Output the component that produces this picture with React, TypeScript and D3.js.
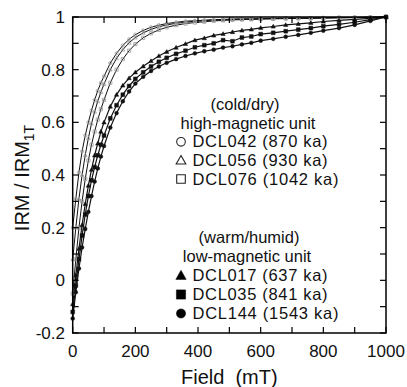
import React from "react";
import * as d3 from "d3";

const fields = [0,10,20,30,40,50,60,70,80,90,100,120,140,160,180,200,225,250,275,300,330,360,390,420,450,480,510,540,570,600,640,680,720,760,800,850,900,950,1000];

const dcl042 = [0.2,0.31,0.41,0.49,0.55,0.6,0.645,0.685,0.72,0.75,0.775,0.825,0.862,0.892,0.915,0.933,0.949,0.961,0.969,0.975,0.98,0.984,0.986,0.988,0.99,0.991,0.992,0.993,0.993,0.994,0.995,0.995,0.996,0.996,0.997,0.998,0.998,0.999,1.0];
const dcl056 = [0.08,0.2,0.31,0.4,0.475,0.54,0.595,0.64,0.68,0.715,0.745,0.8,0.843,0.876,0.902,0.922,0.94,0.953,0.963,0.97,0.976,0.98,0.984,0.986,0.988,0.989,0.991,0.992,0.992,0.993,0.994,0.995,0.995,0.996,0.997,0.997,0.998,0.999,1.0];
const dcl076 = [-0.05,0.08,0.2,0.3,0.385,0.455,0.515,0.565,0.61,0.65,0.685,0.75,0.8,0.84,0.872,0.897,0.921,0.938,0.951,0.961,0.969,0.975,0.979,0.982,0.985,0.987,0.989,0.99,0.991,0.992,0.993,0.994,0.995,0.995,0.996,0.997,0.998,0.999,1.0];
const dcl017 = [-0.09,0.02,0.12,0.21,0.29,0.36,0.42,0.475,0.52,0.565,0.6,0.66,0.705,0.74,0.768,0.79,0.813,0.833,0.852,0.868,0.884,0.898,0.912,0.92,0.93,0.936,0.943,0.949,0.953,0.959,0.964,0.97,0.974,0.978,0.983,0.987,0.991,0.995,1.0];
const dcl035 = [-0.12,-0.02,0.08,0.17,0.25,0.32,0.38,0.43,0.475,0.515,0.55,0.615,0.665,0.705,0.738,0.765,0.79,0.812,0.83,0.845,0.86,0.872,0.885,0.893,0.9,0.912,0.908,0.922,0.926,0.935,0.94,0.946,0.952,0.958,0.965,0.972,0.98,0.99,1.0];
const dcl144 = [-0.145,-0.045,0.045,0.125,0.195,0.26,0.32,0.375,0.425,0.47,0.51,0.58,0.635,0.68,0.717,0.747,0.773,0.795,0.812,0.826,0.84,0.852,0.862,0.87,0.876,0.884,0.889,0.896,0.902,0.91,0.917,0.925,0.932,0.94,0.948,0.958,0.97,0.985,1.0];

const xMajor = [0, 200, 400, 600, 800, 1000];
const xMinor = [0, 100, 200, 300, 400, 500, 600, 700, 800, 900, 1000];
const yMajor = [-0.2, 0, 0.2, 0.4, 0.6, 0.8, 1];
const yMinor = [-0.2, -0.1, 0, 0.1, 0.2, 0.3, 0.4, 0.5, 0.6, 0.7, 0.8, 0.9, 1];
const yLabels = ["-0.2", "0", "0.2", "0.4", "0.6", "0.8", "1"];

type Sym = "circle" | "triangle" | "square";
const series: { name: string; values: number[]; sym: Sym; filled: boolean }[] = [
  { name: "DCL042 (870 ka)", values: dcl042, sym: "circle", filled: false },
  { name: "DCL056 (930 ka)", values: dcl056, sym: "triangle", filled: false },
  { name: "DCL076 (1042 ka)", values: dcl076, sym: "square", filled: false },
  { name: "DCL017 (637 ka)", values: dcl017, sym: "triangle", filled: true },
  { name: "DCL035 (841 ka)", values: dcl035, sym: "square", filled: true },
  { name: "DCL144 (1543 ka)", values: dcl144, sym: "circle", filled: true },
];

const FONT = "'Liberation Sans', Arial, Helvetica, sans-serif";

function symbolPath(sym: Sym, cx: number, cy: number, s: number) {
  if (sym === "circle") return null;
  if (sym === "square") return `M${cx - s},${cy - s}h${2 * s}v${2 * s}h${-2 * s}Z`;
  const h = s * 1.15;
  return `M${cx},${cy - h}L${cx + h},${cy + h * 0.75}L${cx - h},${cy + h * 0.75}Z`;
}

function Marker({ sym, cx, cy, s, fill, stroke, sw }: { sym: Sym; cx: number; cy: number; s: number; fill: string; stroke: string; sw: number }) {
  if (sym === "circle") return <circle cx={cx} cy={cy} r={s} fill={fill} stroke={stroke} strokeWidth={sw} />;
  return <path d={symbolPath(sym, cx, cy, s)!} fill={fill} stroke={stroke} strokeWidth={sw} />;
}

export default function App() {
  const W = 407, H = 387;
  const L = 72.7, R = 386, T = 17, B = 333;
  const x = d3.scaleLinear().domain([0, 1000]).range([L, R]);
  const y = d3.scaleLinear().domain([-0.2, 1]).range([B, T]);
  const line = d3.line<number>().x((_, i) => x(fields[i])).y((v) => y(v));
  const tk = 6;

  const upperLegend = series.slice(0, 3);
  const lowerLegend = series.slice(3);
  const legendX = 181;
  const textX = 192.5;
  const fs = 16.5;
  const lenFor = (name: string) => (name.length > 15 ? 146 : 135);

  return (
    <svg width={W} height={H} style={{ position: "absolute", left: 0, top: 0, background: "#fff" }} fontFamily={FONT}>
      <rect x={0} y={0} width={W} height={H} fill="#fff" />
      {series.map((s) => (
        <path key={s.name + "l"} d={line(s.values)!} fill="none" stroke="#111" strokeWidth={s.filled ? 1.2 : 1} />
      ))}
      {series.map((s) =>
        s.values.map((v, i) => (
          <Marker
            key={s.name + i}
            sym={s.sym}
            cx={x(fields[i])}
            cy={y(v)}
            s={s.filled ? 1.9 : 1.6}
            fill={s.filled ? "#111" : "none"}
            stroke={s.filled ? "#111" : "#999"}
            sw={s.filled ? 0.5 : 0.8}
          />
        ))
      )}
      <rect x={L} y={T} width={R - L} height={B - T} fill="none" stroke="#000" strokeWidth={1.5} />
      {xMinor.map((t) => (
        <g key={"xt" + t}>
          <line x1={x(t)} x2={x(t)} y1={B} y2={B - tk} stroke="#000" strokeWidth={1.2} />
          <line x1={x(t)} x2={x(t)} y1={T} y2={T + tk} stroke="#000" strokeWidth={1.2} />
        </g>
      ))}
      {yMinor.map((t) => (
        <g key={"yt" + t}>
          <line x1={L} x2={L + tk} y1={y(t)} y2={y(t)} stroke="#000" strokeWidth={1.2} />
          <line x1={R} x2={R - tk} y1={y(t)} y2={y(t)} stroke="#000" strokeWidth={1.2} />
        </g>
      ))}
      {xMajor.map((t) => (
        <text key={"xl" + t} x={x(t)} y={357} fontSize={17} textAnchor="middle" fill="#111">
          {String(t)}
        </text>
      ))}
      {yMajor.map((t, i) => (
        <text key={"yl" + t} x={65} y={y(t) + 6} fontSize={17} textAnchor="end" fill="#111">
          {yLabels[i]}
        </text>
      ))}
      <text x={(L + R) / 2} y={384} fontSize={20} textAnchor="middle" fill="#111" style={{ whiteSpace: "pre" }}>
        {"Field  (mT)"}
      </text>
      <text transform={`translate(29,${(T + B) / 2 + 3}) rotate(-90)`} fontSize={20} textAnchor="middle" fill="#111">
        IRM / IRM<tspan fontSize={14} dy={5}>1T</tspan>
      </text>
      <text x={245} y={110} fontSize={fs} textAnchor="middle" fill="#111">(cold/dry)</text>
      <text x={248} y={128.5} fontSize={fs} textAnchor="middle" fill="#111">high-magnetic unit</text>
      {upperLegend.map((s, i) => {
        const by = 147.3 + i * 18.6;
        return (
          <g key={"ul" + i}>
            <Marker sym={s.sym} cx={legendX} cy={by - 5.5} s={s.sym === "triangle" ? 4.2 : 4.3} fill="none" stroke="#222" sw={1.1} />
            <text x={textX} y={by} fontSize={fs} fill="#111" textLength={lenFor(s.name)} lengthAdjust="spacing">{s.name}</text>
          </g>
        );
      })}
      <text x={249} y={243.3} fontSize={fs} textAnchor="middle" fill="#111">(warm/humid)</text>
      <text x={247} y={262} fontSize={fs} textAnchor="middle" fill="#111">low-magnetic unit</text>
      {lowerLegend.map((s, i) => {
        const by = 281 + i * 19;
        return (
          <g key={"ll" + i}>
            <Marker sym={s.sym} cx={legendX} cy={by - 5.5} s={s.sym === "triangle" ? 4.5 : 4.6} fill="#000" stroke="#000" sw={0.5} />
            <text x={textX} y={by} fontSize={fs} fill="#111" textLength={lenFor(s.name)} lengthAdjust="spacing">{s.name}</text>
          </g>
        );
      })}
    </svg>
  );
}
